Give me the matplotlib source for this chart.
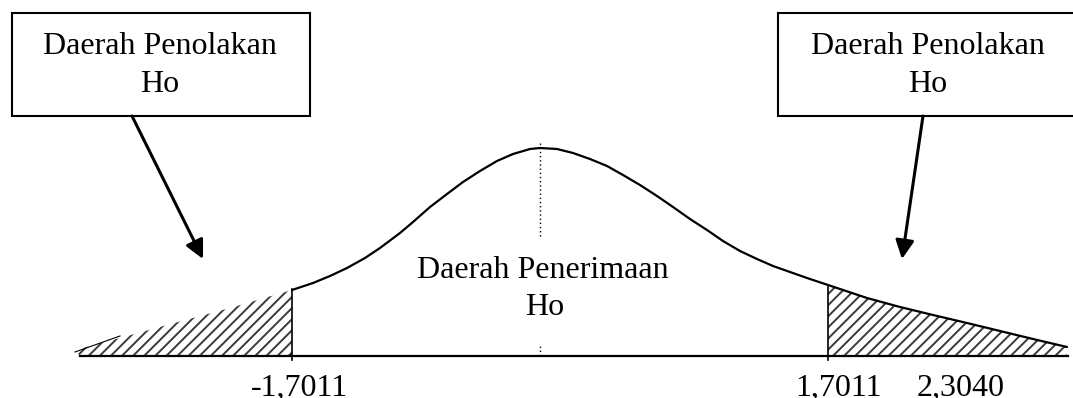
import matplotlib
matplotlib.use("Agg")
import matplotlib.pyplot as plt
from matplotlib.patches import Rectangle, Polygon

# ---- data (drawing units = pixel grid of the reference, y downward) ----
curve_x = [292, 313, 330, 347, 365, 380, 400, 413, 430, 447,
           463, 480, 497, 513, 530, 540, 557, 573, 590, 607,
           623, 640, 657, 673, 690, 707, 723, 740, 757, 773,
           790, 807, 828, 843, 867, 900, 933, 967, 1000, 1033, 1067]
curve_y = [290, 283, 276, 268, 258, 248, 233, 222, 207, 194,
           182, 171, 161, 154, 149, 148, 149, 153, 159, 166,
           175, 185, 196, 207, 219, 230, 241, 251, 259, 266,
           272, 278, 285, 290, 298, 307, 315, 323, 331, 339, 347]
left_tail_x = [75, 120, 167, 230, 292]
left_tail_y = [350, 338, 325, 308, 290]
baseline_y = 356
crit_x = [292, 828]
tick_labels = ["-1,7011", "1,7011", "2,3040"]
tick_label_x = [299, 839, 961]
center_x = 540
box_title = "Daerah Penolakan\nHo"
accept_title = "Daerah Penerimaan\nHo"

plt.rcParams['font.family'] = ['Liberation Serif', 'DejaVu Serif']
plt.rcParams['hatch.linewidth'] = 1.4
plt.rcParams['hatch.color'] = '#3a3a3a'
fig = plt.figure(figsize=(10.73, 3.98), dpi=100)
ax = fig.add_axes([0, 0, 1, 1])
ax.set_xlim(0, 1073)
ax.set_ylim(398, 0)
ax.axis('off')

FS = 23

# hatched left tail
left_poly = list(zip(left_tail_x, left_tail_y)) + [(crit_x[0], baseline_y), (left_tail_x[0] + 5, baseline_y)]
ax.add_patch(Polygon(left_poly, closed=True, facecolor='white', edgecolor='#3a3a3a',
                     hatch='///', linewidth=0))
# hatched right tail
rx = [x for x in curve_x if x >= crit_x[1]]
ry = [y for x, y in zip(curve_x, curve_y) if x >= crit_x[1]]
right_poly = list(zip(rx, ry)) + [(rx[-1], baseline_y), (crit_x[1], baseline_y)]
ax.add_patch(Polygon(right_poly, closed=True, facecolor='white', edgecolor='#3a3a3a',
                     hatch='///', linewidth=0))

# curve
ax.plot(curve_x, curve_y, color='black', lw=1.6, solid_capstyle='round', solid_joinstyle='round')
ax.plot(left_tail_x[:2], [left_tail_y[0] + 2, left_tail_y[1] - 2], color='black', lw=0.8)

# baseline
ax.plot([80, 1068], [baseline_y, baseline_y], color='black', lw=1.6)

# critical lines
ax.plot([crit_x[0], crit_x[0]], [baseline_y + 4, 289], color='black', lw=1.2)
ax.plot([crit_x[1], crit_x[1]], [baseline_y + 4, 287], color='black', lw=1.2)

# center dotted line
ax.plot([center_x, center_x], [143, 238], color='black', lw=1.0, linestyle=(0, (1, 2)))
ax.plot([center_x, center_x], [346, baseline_y], color='black', lw=1.0, linestyle=(0, (1, 2)))

# boxes
ax.add_patch(Rectangle((12, 13), 298, 103, facecolor='white', edgecolor='black', lw=1.5))
ax.add_patch(Rectangle((778, 13), 302, 103, facecolor='white', edgecolor='black', lw=1.5))
lines = box_title.split("\n")
for cx in (160, 928):
    ax.text(cx, 54, lines[0], ha='center', va='baseline', fontsize=FS)
    ax.text(cx, 92, lines[1], ha='center', va='baseline', fontsize=FS)

# arrows
arrow_kw = dict(arrowstyle='-|>', color='black', lw=2.2, mutation_scale=28,
                shrinkA=0, shrinkB=0)
ax.annotate('', xy=(203, 259), xytext=(132, 116), arrowprops=arrow_kw)
ax.annotate('', xy=(902, 259), xytext=(923, 116), arrowprops=arrow_kw)

# acceptance text
al = accept_title.split("\n")
ax.text(543, 278, al[0], ha='center', va='baseline', fontsize=FS)
ax.text(545, 315, al[1], ha='center', va='baseline', fontsize=FS)

# tick labels
for lx, lab in zip(tick_label_x, tick_labels):
    ax.text(lx, 396, lab, ha='center', va='baseline', fontsize=FS)

fig.savefig('out.png', dpi=100)
